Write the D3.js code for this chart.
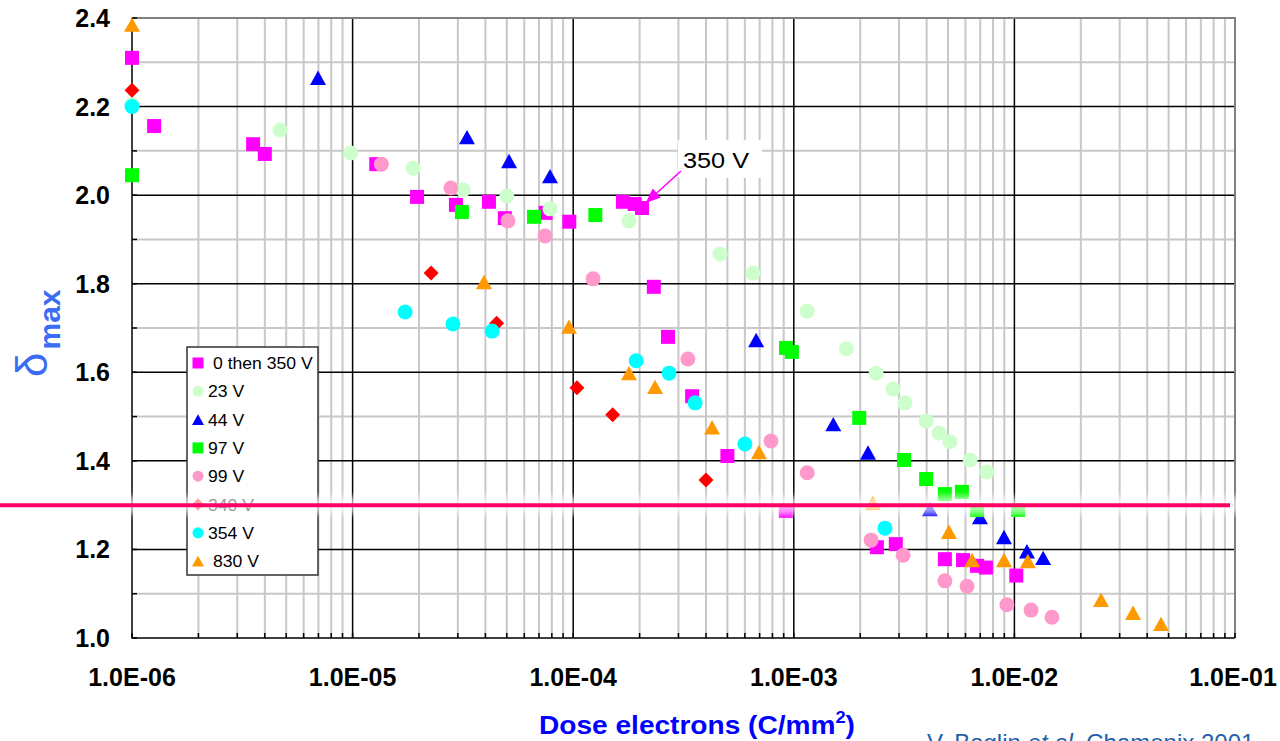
<!DOCTYPE html>
<html lang="en">
<head>
<meta charset="utf-8">
<title>delta max vs dose</title>
<script src="https://d3js.org/d3.v7.min.js"></script>
<style>
  html, body { margin: 0; padding: 0; background: #fff; }
  svg { display: block; font-family: Arial, "Liberation Sans", sans-serif; }
</style>
</head>
<body>
<svg id="chart" width="1280" height="741"></svg>
<script>
// series: dose (C/mm2) and delta max
const seriesNames = ["0 then 350 V", "23 V", "44 V", "97 V", "99 V", "340 V", "354 V", "830 V"];

const dose0 = [1e-6, 1.26e-6, 3.54e-6, 4.0e-6, 1.28e-5, 1.96e-5, 2.94e-5, 4.15e-5, 4.9e-5, 7.5e-5, 9.6e-5, 1.68e-4, 1.9e-4, 2.05e-4, 2.32e-4, 2.69e-4, 3.46e-4, 5.0e-4, 9.2e-4, 2.38e-3, 2.9e-3, 4.84e-3, 5.85e-3, 6.77e-3, 7.43e-3, 1.02e-2];
const dmax0 = [2.31, 2.156, 2.115, 2.093, 2.07, 1.996, 1.978, 1.985, 1.948, 1.96, 1.94, 1.985, 1.98, 1.971, 1.793, 1.68, 1.546, 1.411, 1.287, 1.205, 1.212, 1.178, 1.176, 1.163, 1.159, 1.141];

const dose23 = [1e-6, 4.69e-6, 9.8e-6, 1.88e-5, 3.17e-5, 5.0e-5, 7.85e-5, 1.79e-4, 4.63e-4, 6.53e-4, 1.15e-3, 1.73e-3, 2.36e-3, 2.82e-3, 3.19e-3, 3.98e-3, 4.55e-3, 5.1e-3, 6.3e-3, 7.5e-3];
const dmax23 = [2.205, 2.147, 2.095, 2.061, 2.012, 1.998, 1.969, 1.942, 1.867, 1.824, 1.738, 1.653, 1.598, 1.562, 1.531, 1.49, 1.463, 1.443, 1.402, 1.375];

const dose44 = [6.97e-6, 3.3e-5, 5.12e-5, 7.85e-5, 6.75e-4, 1.51e-3, 2.17e-3, 4.14e-3, 6.98e-3, 8.97e-3, 1.14e-2, 1.35e-2];
const dmax44 = [2.265, 2.131, 2.077, 2.043, 1.673, 1.483, 1.419, 1.291, 1.273, 1.228, 1.196, 1.181];

const dose97 = [1e-6, 3.13e-5, 6.64e-5, 1.26e-4, 9.22e-4, 9.8e-4, 1.98e-3, 3.16e-3, 3.98e-3, 4.84e-3, 5.78e-3, 6.77e-3, 1.04e-2];
const dmax97 = [2.045, 1.962, 1.951, 1.955, 1.655, 1.646, 1.497, 1.402, 1.359, 1.325, 1.33, 1.289, 1.289];

const dose99 = [1.35e-5, 2.79e-5, 5.06e-5, 7.45e-5, 1.23e-4, 3.31e-4, 7.88e-4, 1.15e-3, 2.24e-3, 3.13e-3, 4.84e-3, 6.1e-3, 9.25e-3, 1.19e-2, 1.48e-2];
const dmax99 = [2.07, 2.016, 1.942, 1.908, 1.811, 1.63, 1.445, 1.373, 1.221, 1.187, 1.129, 1.117, 1.075, 1.063, 1.047];

const dose340 = [1e-6, 2.27e-5, 4.5e-5, 1.04e-4, 1.51e-4, 4.0e-4];
const dmax340 = [2.237, 1.824, 1.711, 1.565, 1.504, 1.357];

const dose354 = [1e-6, 1.73e-5, 2.85e-5, 4.29e-5, 1.93e-4, 2.72e-4, 3.57e-4, 6.0e-4, 2.59e-3];
const dmax354 = [2.2, 1.736, 1.709, 1.693, 1.626, 1.598, 1.531, 1.438, 1.248];

const dose830 = [1e-6, 3.94e-5, 9.57e-5, 1.79e-4, 2.35e-4, 4.26e-4, 6.95e-4, 2.28e-3, 5.05e-3, 6.43e-3, 8.97e-3, 1.15e-2, 2.47e-2, 3.45e-2, 4.62e-2];
const dmax830 = [2.385, 1.804, 1.703, 1.598, 1.567, 1.476, 1.42, 1.305, 1.24, 1.176, 1.176, 1.174, 1.086, 1.057, 1.032];

const xTicks = [1e-6, 1e-5, 1e-4, 1e-3, 1e-2, 1e-1];
const xTickLabels = ["1.0E-06", "1.0E-05", "1.0E-04", "1.0E-03", "1.0E-02", "1.0E-01"];
const yTicks = [1.0, 1.2, 1.4, 1.6, 1.8, 2.0, 2.2, 2.4];
const threshold = 1.3;      // horizontal reference line
const note350 = 2.0e-4;     // dose where the "350 V" arrow points

const svg = d3.select("#chart");

const x = d3.scaleLog().domain([1e-6, 1e-1]).range([132, 1235]);
const y = d3.scaleLinear().domain([1.0, 2.4]).range([638, 18]);

// marker shapes, sizes in px
function square(s) { return `M${-s},${-s}H${s}V${s}H${-s}Z`; }
function tri(s) { return `M0,${-s * 0.9}L${s},${s * 0.9}L${-s},${s * 0.9}Z`; }
function diamond(s) { return `M0,${-s}L${s},0L0,${s}L${-s},0Z`; }
function circle(r) { return `M${r},0A${r},${r} 0 1,1 ${-r},0A${r},${r} 0 1,1 ${r},0Z`; }

const series = [
  { name: seriesNames[0], xs: dose0, ys: dmax0, color: "#ff00ff", shape: square(7) },
  { name: seriesNames[1], xs: dose23, ys: dmax23, color: "#ccffcc", shape: circle(7.5) },
  { name: seriesNames[2], xs: dose44, ys: dmax44, color: "#0000ff", shape: tri(8) },
  { name: seriesNames[3], xs: dose97, ys: dmax97, color: "#00ff00", shape: square(7) },
  { name: seriesNames[4], xs: dose99, ys: dmax99, color: "#ff99cc", shape: circle(7.5) },
  { name: seriesNames[5], xs: dose340, ys: dmax340, color: "#ff0000", shape: diamond(7.5) },
  { name: seriesNames[6], xs: dose354, ys: dmax354, color: "#00ffff", shape: circle(7.5) },
  { name: seriesNames[7], xs: dose830, ys: dmax830, color: "#ff9900", shape: tri(8) }
];

// grid
const grid = svg.append("g");
const minorX = [];
for (let e = -6; e < -1; e++) for (let k = 2; k <= 9; k++) minorX.push(k * Math.pow(10, e));
grid.selectAll(".mx").data(minorX).join("line")
  .attr("x1", d => x(d)).attr("x2", d => x(d)).attr("y1", 18).attr("y2", 638)
  .attr("stroke", "#c8c8c8").attr("stroke-width", 2);
const minorY = d3.range(1.1, 2.4, 0.2);
grid.selectAll(".my").data(minorY).join("line")
  .attr("x1", 132).attr("x2", 1235).attr("y1", d => y(d)).attr("y2", d => y(d))
  .attr("stroke", "#c8c8c8").attr("stroke-width", 2);
grid.selectAll(".Mx").data(xTicks.slice(1, -1)).join("line")
  .attr("x1", d => x(d)).attr("x2", d => x(d)).attr("y1", 18).attr("y2", 638)
  .attr("stroke", "#000").attr("stroke-width", 1.5);
grid.selectAll(".My").data(yTicks.slice(1, -1)).join("line")
  .attr("x1", 132).attr("x2", 1235).attr("y1", d => y(d)).attr("y2", d => y(d))
  .attr("stroke", "#000").attr("stroke-width", 1.5);

// frame
svg.append("path").attr("d", "M132,18H1235V638").attr("fill", "none")
  .attr("stroke", "#808080").attr("stroke-width", 2);
svg.append("path").attr("d", "M132,18V638H1235").attr("fill", "none")
  .attr("stroke", "#000").attr("stroke-width", 1.5);

// inside ticks
svg.append("g").selectAll("line").data(minorX.concat(xTicks)).join("line")
  .attr("x1", d => x(d)).attr("x2", d => x(d)).attr("y1", 633).attr("y2", 638)
  .attr("stroke", "#000").attr("stroke-width", 1.5);
svg.append("g").selectAll("line").data(d3.range(1.0, 2.45, 0.1)).join("line")
  .attr("x1", 132).attr("x2", 137).attr("y1", d => y(d)).attr("y2", d => y(d))
  .attr("stroke", "#000").attr("stroke-width", 1.5);

// tick labels
svg.append("g").selectAll("text").data(yTicks).join("text")
  .attr("x", 110).attr("y", d => y(d) + 9).attr("text-anchor", "end")
  .attr("font-size", 25).attr("font-weight", "bold").text(d => d.toFixed(1));
svg.append("g").selectAll("text").data(xTicks).join("text")
  .attr("text-anchor", "middle")
  .attr("transform", d => `translate(${Math.min(x(d), 1233)},686)`)
  .attr("font-size", 25).attr("font-weight", "bold").text((d, i) => xTickLabels[i]);

// axis titles
const xt = svg.append("text").attr("transform", "translate(697,734) scale(1.08,1)")
  .attr("text-anchor", "middle")
  .attr("font-size", 26).attr("font-weight", "bold").attr("fill", "#0000ff");
xt.append("tspan").text("Dose electrons (C/mm");
xt.append("tspan").attr("font-size", 17).attr("dy", -11).text("2");
xt.append("tspan").attr("dy", 11).text(")");

const yt = svg.append("text").attr("transform", "translate(47,377) rotate(-90)")
  .attr("fill", "#3a6cf4");
yt.append("tspan").attr("font-size", 44).text("δ");
yt.append("tspan").attr("font-size", 30).attr("font-weight", "bold").attr("dy", 13).attr("dx", 3).text("max");

// attribution, cut by the bottom edge as in the source
const at = svg.append("text").attr("x", 927).attr("y", 751).attr("font-size", 24).attr("fill", "#1f5fa8");
at.append("tspan").text("V. Baglin ");
at.append("tspan").attr("font-style", "italic").text("et al.");
at.append("tspan").text(" Chamonix 2001");

// points
series.forEach(s => {
  svg.append("g").selectAll("path").data(s.xs.map((d, i) => [d, s.ys[i]])).join("path")
    .attr("transform", d => `translate(${x(d[0])},${y(d[1])})`)
    .attr("d", s.shape).attr("fill", s.color);
});

// "350 V" note
svg.append("rect").attr("x", 678).attr("y", 140).attr("width", 84).attr("height", 38).attr("fill", "#fff");
svg.append("text").attr("font-size", 22)
  .attr("transform", "translate(683,168) scale(1.15,1)").text("350 V");
const ax0 = 681, ay0 = 171, ax1 = x(note350) + 6, ay1 = y(1.98) - 1;
const ang = Math.atan2(ay1 - ay0, ax1 - ax0);
svg.append("line").attr("x1", ax0).attr("y1", ay0)
  .attr("x2", ax1 - 12 * Math.cos(ang)).attr("y2", ay1 - 12 * Math.sin(ang))
  .attr("stroke", "#ff00ff").attr("stroke-width", 1.5);
svg.append("path")
  .attr("d", `M0,0L-15,-6L-15,6Z`)
  .attr("transform", `translate(${ax1},${ay1}) rotate(${ang * 180 / Math.PI})`)
  .attr("fill", "#ff00ff");

// legend
const lg = svg.append("g");
lg.append("rect").attr("x", 187).attr("y", 347).attr("width", 131).attr("height", 228)
  .attr("fill", "#fff").attr("stroke", "#333").attr("stroke-width", 1.5);
const legendShapes = [square(5.5), circle(5.5), tri(6), square(5.5), circle(5.5), diamond(6), circle(5.5), tri(6)];
series.forEach((s, i) => {
  const ly = 363 + i * 28.3;
  lg.append("path").attr("transform", `translate(198,${ly})`).attr("d", legendShapes[i]).attr("fill", s.color);
  const tx = (i === 0 || i === 7) ? 213 : 208;
  lg.append("text").attr("font-size", 16)
    .attr("transform", `translate(${tx},${ly + 6}) scale(1.1,1)`).text(s.name);
});

// reference line with white halo
const defs = svg.append("defs");
defs.append("filter").attr("id", "blur").attr("x", "-5%").attr("y", "-100%").attr("width", "110%").attr("height", "300%")
  .append("feGaussianBlur").attr("stdDeviation", 3);
svg.append("rect").attr("x", 0).attr("y", y(threshold) - 9).attr("width", 1242).attr("height", 18)
  .attr("fill", "#fff").attr("opacity", 0.65).attr("filter", "url(#blur)");
svg.append("line").attr("x1", 0).attr("x2", 1230).attr("y1", y(threshold)).attr("y2", y(threshold))
  .attr("stroke", "#ff0066").attr("stroke-width", 4);
</script>
</body>
</html>
